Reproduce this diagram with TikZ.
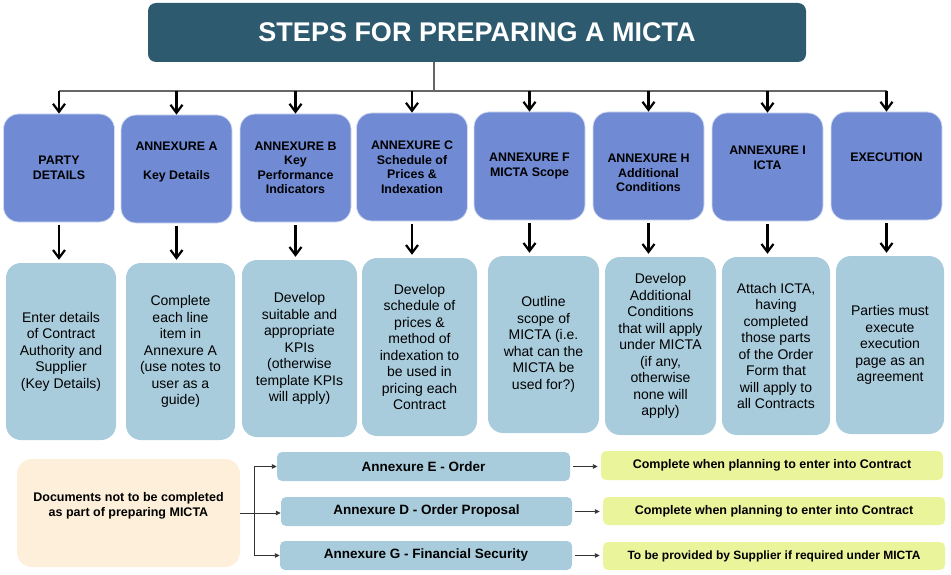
\documentclass[tikz,border=0pt]{standalone}
\usepackage{fontspec}
\setmainfont{Liberation Sans}
\usetikzlibrary{arrows.meta}
\definecolor{titleteal}{RGB}{45,90,110}
\definecolor{stepblue}{RGB}{112,138,212}
\definecolor{taskblue}{RGB}{169,204,221}
\definecolor{notepeach}{RGB}{253,239,217}
\definecolor{noteyellow}{RGB}{234,244,155}
\tikzset{
  >=Latex,
  stephead/.style={fill=stepblue, draw=white!70!stepblue, line width=0.8pt,
    rounded corners=15pt, minimum width=111pt, minimum height=108pt},
  steptxt/.style={font=\bfseries\fontsize{12.4}{14.5}\selectfont, align=center},
  steptask/.style={fill=taskblue, rounded corners=15pt, minimum height=177pt,
    align=center, font=\fontsize{14}{16.5}\selectfont},
  busline/.style={draw=black!60, line width=1.1pt},
  dnarrow/.style={-{Straight Barb[length=8pt,width=12pt]}, line width=2.2pt},
  docbox/.style={fill=taskblue, rounded corners=5pt, minimum height=29pt,
    font=\bfseries\fontsize{13.5}{16}\selectfont},
  notebox/.style={fill=noteyellow, rounded corners=5pt, minimum width=342pt,
    minimum height=29pt, font=\bfseries\fontsize{12.5}{15}\selectfont},
  side/.style={-{Triangle[length=5pt,width=4.5pt]}, line width=0.9pt, black!80}
}

\begin{document}
\begin{tikzpicture}[x=1pt,y=-1pt]
\useasboundingbox (0,0) rectangle (951,575);

% title
\node[fill=titleteal, rounded corners=8pt, minimum width=658pt, minimum height=59pt,
  text=white, font=\bfseries\fontsize{27}{30}\selectfont] (title) at (477,32.5)
  {STEPS FOR PREPARING A MICTA};
\coordinate (bus) at (434,91);

% steps
\node[stephead, label={[steptxt]center:{PARTY\\DETAILS}}] (pd) at (59,168) {};
\node[stephead, label={[steptxt,yshift=7pt]center:{ANNEXURE A\\[15pt]Key Details}}] (anxa) at (176.5,169) {};
\node[stephead, label={[steptxt]center:{ANNEXURE B\\Key\\Performance\\Indicators}}] (anxb) at (295.5,168) {};
\node[stephead, label={[steptxt]center:{ANNEXURE C\\Schedule of\\Prices \&\\Indexation}}] (anxc) at (412,167) {};
\node[stephead, label={[steptxt]center:{ANNEXURE F\\MICTA Scope}}] (anxf) at (529.5,166) {};
\node[stephead, label={[steptxt,yshift=-7pt]center:{ANNEXURE H\\Additional\\Conditions}}] (anxh) at (648.5,166) {};
\node[stephead, label={[steptxt,yshift=9pt]center:{ANNEXURE I\\ICTA}}] (anxi) at (767.5,167) {};
\node[stephead, label={[steptxt,yshift=9pt]center:{EXECUTION}}] (exe) at (886.5,166) {};

% tasks
\node[steptask, minimum width=110pt] (tpd) at (61,351.5)
  {Enter details\\of Contract\\Authority and\\Supplier\\(Key Details)};
\node[steptask, minimum width=109pt] (tanxa) at (180.5,351.5)
  {Complete\\each line\\item in\\Annexure A\\(use notes to\\user as a\\guide)};
\node[steptask, minimum width=115pt] (tanxb) at (299.5,348.5)
  {Develop\\suitable and\\appropriate\\KPIs\\(otherwise\\template KPIs\\will apply)};
\node[steptask, minimum width=115pt, minimum height=178pt] (tanxc) at (419.5,347)
  {Develop\\schedule of\\prices \&\\method of\\indexation to\\be used in\\pricing each\\Contract};
\node[steptask, minimum width=111pt] (tanxf) at (543.5,344.5)
  {Outline\\scope of\\MICTA (i.e.\\what can the\\MICTA be\\used for?)};
\node[steptask, minimum width=111pt, minimum height=178pt] (tanxh) at (660.5,346)
  {Develop\\Additional\\Conditions\\that will apply\\under MICTA\\(if any,\\otherwise\\none will\\apply)};
\node[steptask, minimum width=108pt, minimum height=178pt] (tanxi) at (776,346)
  {Attach ICTA,\\having\\completed\\those parts\\of the Order\\Form that\\will apply to\\all Contracts};
\node[steptask, minimum width=108pt, minimum height=178pt] (texe) at (890,345)
  {Parties must\\execute\\execution\\page as an\\agreement};

% connectors
\draw[busline] (bus |- title.south) -- (bus);
\draw[busline] (pd.north |- bus) -- (exe.north |- bus);
\draw[dnarrow] (pd.north |- bus) -- (pd.north);
\draw[dnarrow] (anxa.north |- bus) -- (anxa.north);
\draw[dnarrow] (anxb.north |- bus) -- (anxb.north);
\draw[dnarrow] (anxc.north |- bus) -- (anxc.north);
\draw[dnarrow] (anxf.north |- bus) -- (anxf.north);
\draw[dnarrow] (anxh.north |- bus) -- (anxh.north);
\draw[dnarrow] (anxi.north |- bus) -- (anxi.north);
\draw[dnarrow] (exe.north |- bus) -- (exe.north);

\draw[dnarrow, shorten <=3pt, shorten >=3pt] (pd.south) -- (pd.south |- tpd.north);
\draw[dnarrow, shorten <=3pt, shorten >=3pt] (anxa.south) -- (anxa.south |- tanxa.north);
\draw[dnarrow, shorten <=3pt, shorten >=3pt] (anxb.south) -- (anxb.south |- tanxb.north);
\draw[dnarrow, shorten <=3pt, shorten >=3pt] (anxc.south) -- (anxc.south |- tanxc.north);
\draw[dnarrow, shorten <=3pt, shorten >=3pt] (anxf.south) -- (anxf.south |- tanxf.north);
\draw[dnarrow, shorten <=3pt, shorten >=3pt] (anxh.south) -- (anxh.south |- tanxh.north);
\draw[dnarrow, shorten <=3pt, shorten >=3pt] (anxi.south) -- (anxi.south |- tanxi.north);
\draw[dnarrow, shorten <=3pt, shorten >=3pt] (exe.south) -- (exe.south |- texe.north);

% documents not to be completed
\node[fill=notepeach, rounded corners=15pt, minimum width=223pt, minimum height=108pt,
  label={[font=\bfseries\fontsize{12.5}{15}\selectfont, align=center, yshift=7pt]center:{Documents not to be completed\\as part of preparing MICTA}}]
  (peach) at (128.5,513) {};
\node[docbox, minimum width=293pt] (anxe) at (423.5,466.5) {Annexure E - Order};
\node[docbox, minimum width=291pt] (anxd) at (426.5,511.5) {Annexure D - Order Proposal};
\node[docbox, minimum width=292pt] (anxg) at (426,555.5) {Annexure G - Financial Security};
\node[notebox] (ne) at (772,465.5) {Complete when planning to enter into Contract};
\node[notebox, minimum height=28pt] (nd) at (774,511) {Complete when planning to enter into Contract};
\node[notebox, minimum height=28pt, font=\bfseries\fontsize{12}{15}\selectfont] (ng) at (774,556) {To be provided by Supplier if required under MICTA};

\coordinate (fork) at ([xshift=14pt]peach.east);
\draw[side] (peach.east) -- (peach.east -| anxd.west);
\draw[side] (fork) |- (anxe.west);
\draw[side] (fork) |- (anxg.west);
\draw[side, shorten <=3pt, shorten >=3pt] (anxe.east) -- (anxe.east -| ne.west);
\draw[side, shorten <=3pt, shorten >=3pt] (anxd.east) -- (anxd.east -| nd.west);
\draw[side, shorten <=3pt, shorten >=3pt] (anxg.east) -- (anxg.east -| ng.west);
\end{tikzpicture}
\end{document}
